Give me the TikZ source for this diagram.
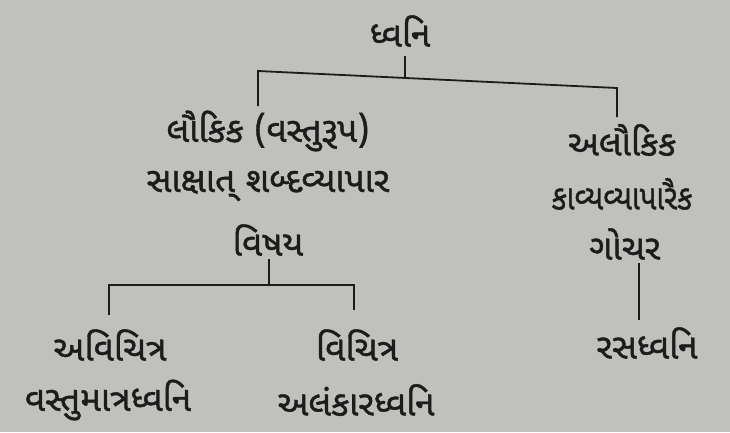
\documentclass[tikz,border=0pt]{standalone}
\usepackage{fontspec}
\newfontfamily\guj[Script=Gujarati,FakeBold=1.2]{Noto Sans Gujarati UI}
\definecolor{paper}{RGB}{192,192,189}
\definecolor{ink}{RGB}{28,28,28}
\tikzset{
  lbl/.style={font=\guj\fontsize{35}{40}\selectfont, text=ink, inner sep=0pt, anchor=center},
  conn/.style={draw=ink, line width=1.8pt}
}
\begin{document}
\begin{tikzpicture}[x=1pt,y=-1pt]
\fill[paper] (0,0) rectangle (730,432);
\useasboundingbox (0,0) rectangle (730,432);
% nodes
\node[lbl] (dhvani) at (400,31) {ધ્વનિ};
\node[lbl] (lauk1) at (268,131) {લૌકિક (વસ્તુરૂપ)};
\node[lbl] (lauk2) at (268,186) {સાક્ષાત્ શબ્દવ્યાપાર};
\node[lbl] (lauk3) at (268,240) {વિષય};
\node[lbl] (alauk1) at (622,140) {અલૌકિક};
\node[lbl, xscale=0.84, transform shape] (alauk2) at (622,194) {કાવ્યવ્યાપારૈક};
\node[lbl] (alauk3) at (625,244) {ગોચર};
\node[lbl] (ras) at (647,343) {રસધ્વનિ};
\node[lbl] (avi1) at (110,345) {અવિચિત્ર};
\node[lbl] (avi2) at (108,400) {વસ્તુમાત્રધ્વનિ};
\node[lbl] (vic1) at (357,345) {વિચિત્ર};
\node[lbl] (vic2) at (356,400) {અલંકારધ્વનિ};
% junction coordinates
\coordinate (t0) at (405,56);
\coordinate (tj) at (405,77);
\coordinate (tl) at (258,71);
\coordinate (tr) at (617,88);
\coordinate (tle) at (258,106);
\coordinate (tre) at (617,117);
\coordinate (m0) at (269,259);
\coordinate (mj) at (269,285);
\coordinate (ml) at (109,285);
\coordinate (mr) at (354,285);
\coordinate (mle) at (109,315);
\coordinate (mre) at (354,310);
\coordinate (r0) at (639,263);
\coordinate (r1) at (639,320);
% connectors
\draw[conn] (t0) -- (tj);
\draw[conn] (tle) -- (tl) -- (tr) -- (tre);
\draw[conn] (m0) -- (mj);
\draw[conn] (mle) -- (ml) -- (mr) -- (mre);
\draw[conn, line width=1.2pt] (r0) -- (r1);
\end{tikzpicture}
\end{document}
